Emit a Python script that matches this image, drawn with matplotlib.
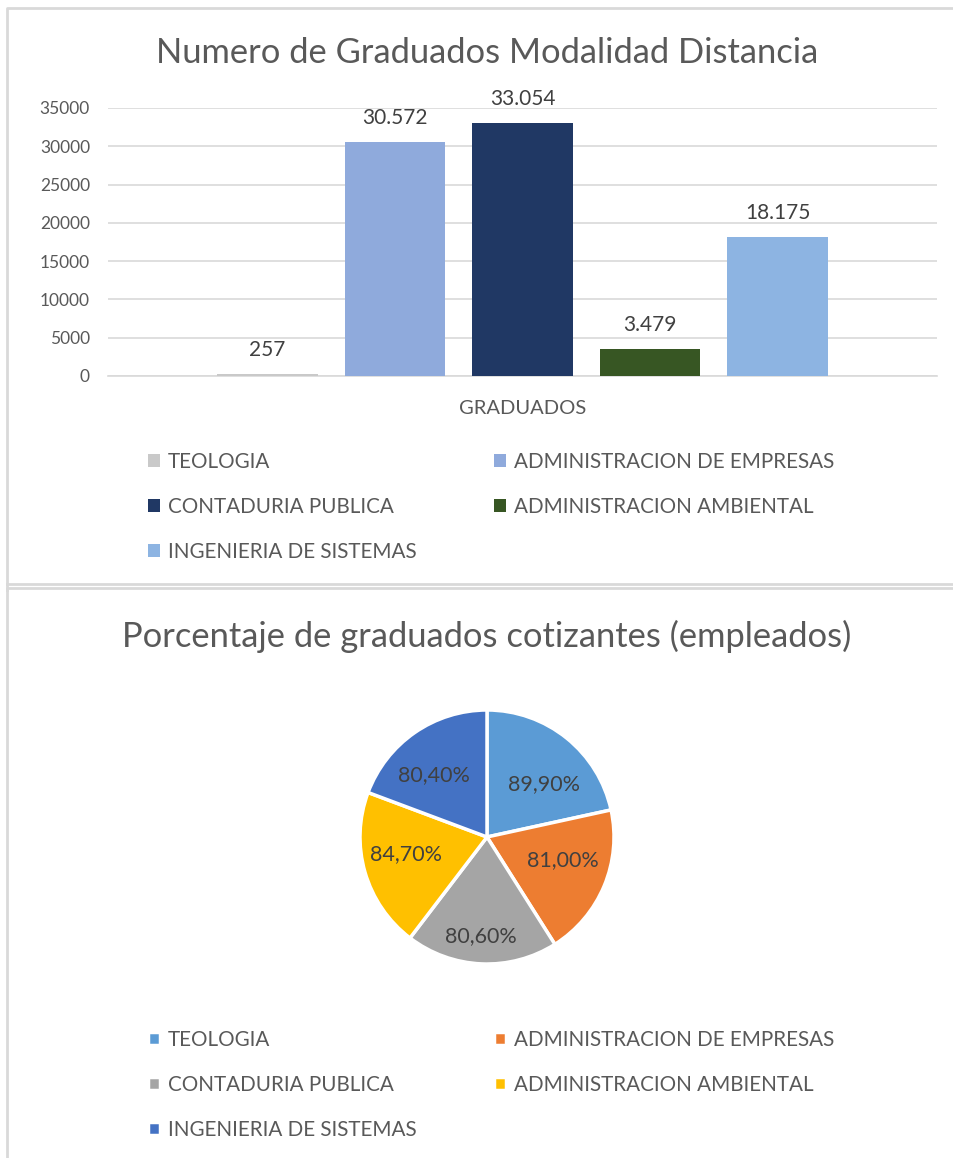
import matplotlib
matplotlib.use("Agg")
import matplotlib.pyplot as plt
from matplotlib.lines import Line2D
import numpy as np

# Datos de la imagen
programas = ["TEOLOGIA", "ADMINISTRACION DE EMPRESAS", "CONTADURIA PUBLICA",
             "ADMINISTRACION AMBIENTAL", "INGENIERIA DE SISTEMAS"]
graduados = [257, 30572, 33054, 3479, 18175]
cotizantes = [89.9, 81.0, 80.6, 84.7, 80.4]
categoria = "GRADUADOS"
y_ticks = [0, 5000, 10000, 15000, 20000, 25000, 30000, 35000]

titulo_barras = "Numero de Graduados Modalidad Distancia"
titulo_pie = "Porcentaje de graduados cotizantes (empleados)"

colores_barras = ["#c9c9c9", "#8faadc", "#203864", "#375623", "#8db4e2"]
colores_pie = ["#5b9bd5", "#ed7d31", "#a5a5a5", "#ffc000", "#4472c4"]

TXT = "#595959"
LBL = "#404040"
GRID = "#d9d9d9"

plt.rcParams['font.family'] = ['Lato', 'DejaVu Sans']

W, H = 954, 1158
fig = plt.figure(figsize=(W / 100, H / 100), dpi=100)


def fx(px):
    return px / W


def fy(py):
    return 1 - py / H


# marcos de los dos graficos
for xs, ys in [((7, 7, 960), (590, 8, 8)), ((7, 960), (584, 584)),
               ((7, 7, 960), (1170, 588, 588))]:
    fig.add_artist(Line2D([fx(x) for x in xs], [fy(y) for y in ys],
                          color=GRID, lw=2, transform=fig.transFigure))

# ---- grafico de barras ----
ax = fig.add_axes([fx(108), fy(376), fx(937) - fx(108), fy(108) - fy(376)])
pos = np.arange(len(programas))
bars = []
for i, (p, v) in enumerate(zip(programas, graduados)):
    b = ax.bar(pos[i], v, width=0.79, color=colores_barras[i], label=p, zorder=3)
    bars.append(b)
    ax.bar_label(b, labels=[f"{v:,}".replace(",", ".")], padding=10,
                 fontsize=15, color=LBL)

ax.set_xlim(-1.25, 5.25)
ax.set_ylim(0, 35000)
ax.set_yticks(y_ticks)
ax.set_yticklabels([str(t) for t in y_ticks], fontsize=12.5, color=TXT)
ax.set_xticks([pos.mean()])
ax.set_xticklabels([categoria], fontsize=14.5, color=TXT)
ax.tick_params(axis='both', length=0)
ax.tick_params(axis='y', pad=13)
ax.tick_params(axis='x', pad=17)
ax.grid(axis='y', color=GRID, lw=1.2, zorder=0)
for s in ['top', 'right', 'left']:
    ax.spines[s].set_visible(False)
ax.spines['bottom'].set_color(GRID)
ax.spines['bottom'].set_linewidth(1.2)

fig.text(fx(487), fy(53), titulo_barras, ha='center', va='center',
         fontsize=24.8, color=TXT)

orden = [0, 2, 4, 1, 3]
leg_kw = dict(ncol=2, loc='upper left', frameon=False, fontsize=14.9,
              labelcolor=TXT, handlelength=0.58, handleheight=0.58,
              handletextpad=0.38, labelspacing=1.2, columnspacing=3.75,
              borderpad=0, borderaxespad=0)

h_bar = [bars[i] for i in orden]
fig.legend(h_bar, [programas[i] for i in orden],
           bbox_to_anchor=(fx(148), fy(452)), **leg_kw)

# ---- grafico de torta ----
ax2 = fig.add_axes([fx(487 - 127), fy(837 + 127), fx(254), 254 / H])
wedges, _ = ax2.pie(cotizantes, colors=colores_pie, startangle=90,
                    counterclock=False,
                    wedgeprops=dict(edgecolor='white', linewidth=2.5))
ax2.set_xlim(-1, 1)
ax2.set_ylim(-1, 1)

radio_lbl = [0.61, 0.62, 0.78, 0.65, 0.64]
giro_lbl = [-8, 6, -1, -4, 6]
for w, v, r, g in zip(wedges, cotizantes, radio_lbl, giro_lbl):
    ang = np.deg2rad((w.theta1 + w.theta2) / 2 + g)
    ax2.text(r * np.cos(ang), r * np.sin(ang), f"{v:.2f}%".replace(".", ","),
             ha='center', va='center', fontsize=15.5, color=LBL)

fig.text(fx(487), fy(636), titulo_pie, ha='center', va='center',
         fontsize=24.8, color=TXT)

h_pie = [wedges[i] for i in orden]
fig.legend(h_pie, [programas[i] for i in orden],
           bbox_to_anchor=(fx(148), fy(1030)), **leg_kw)

fig.savefig("out.png", dpi=100, facecolor="white")
